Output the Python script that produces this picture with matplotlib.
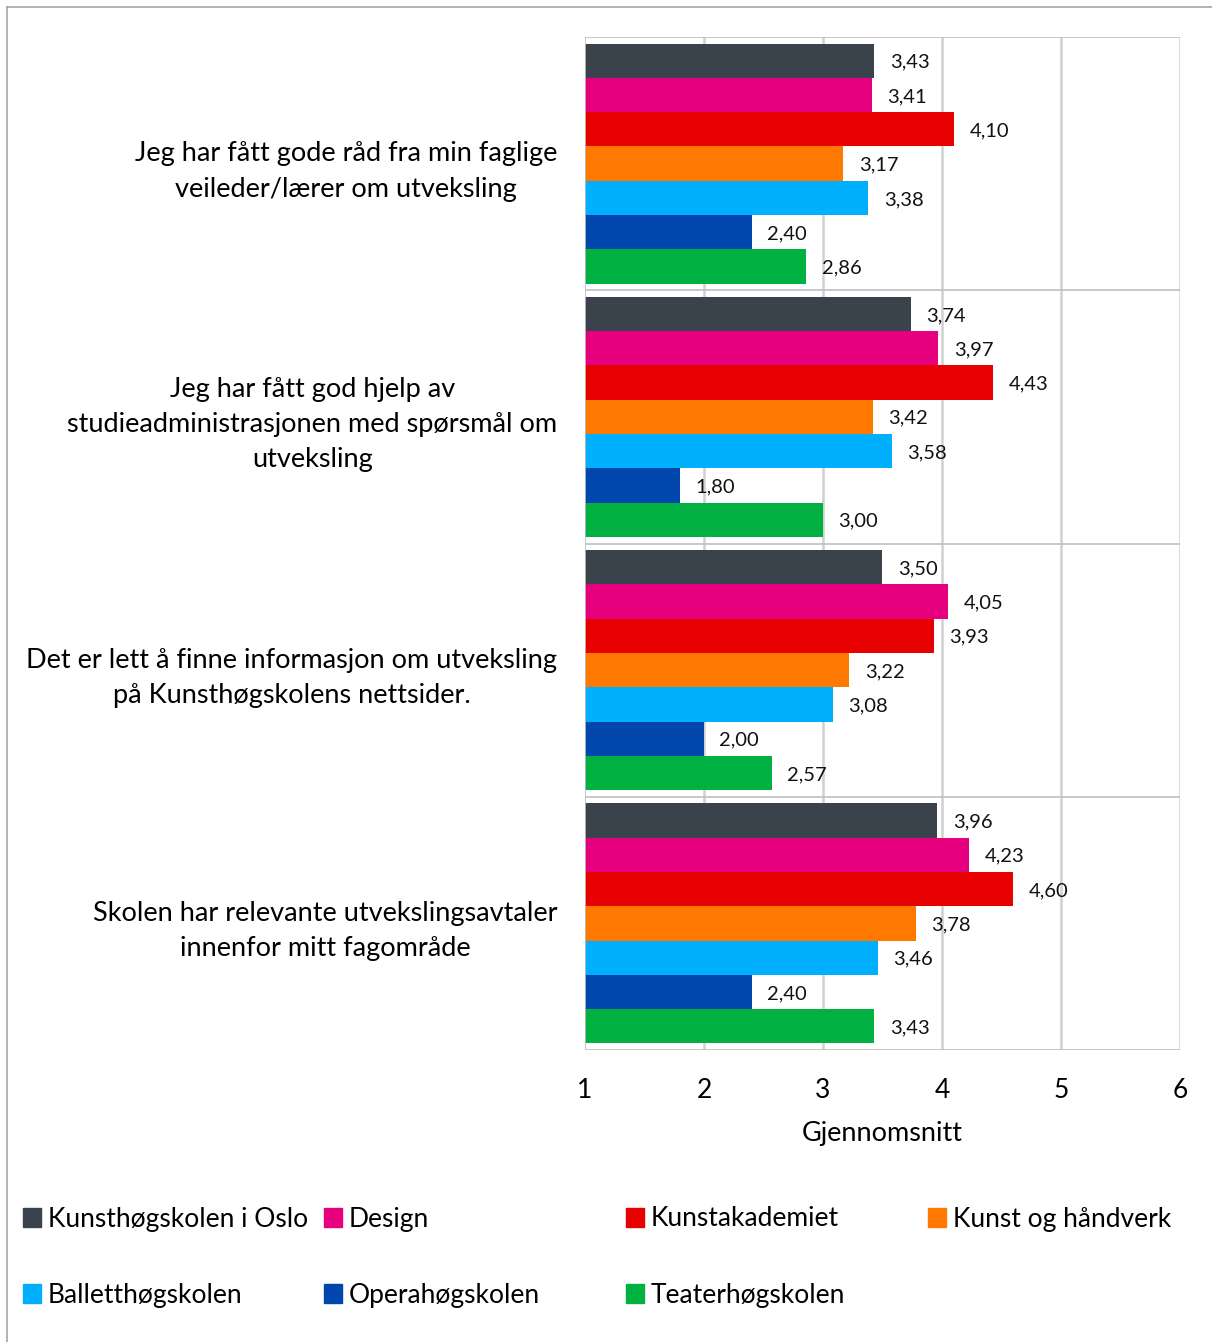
import numpy as np
import matplotlib
matplotlib.use("Agg")
import matplotlib.pyplot as plt
from matplotlib.patches import Patch
from matplotlib.lines import Line2D

plt.rcParams['font.family'] = ['Lato', 'DejaVu Sans']

questions = [
    "Jeg har fått gode råd fra min faglige\nveileder/lærer om utveksling",
    "Jeg har fått god hjelp av\nstudieadministrasjonen med spørsmål om\nutveksling",
    "Det er lett å finne informasjon om utveksling\npå Kunsthøgskolens nettsider.",
    "Skolen har relevante utvekslingsavtaler\ninnenfor mitt fagområde",
]
series = ["Kunsthøgskolen i Oslo", "Design", "Kunstakademiet", "Kunst og håndverk",
          "Balletthøgskolen", "Operahøgskolen", "Teaterhøgskolen"]
colors = ["#3A434B", "#E6007E", "#E60000", "#FF7800", "#00B0FF", "#0046AD", "#00B040"]

khio = [3.43, 3.74, 3.50, 3.96]
design = [3.41, 3.97, 4.05, 4.23]
kunstakademiet = [4.10, 4.43, 3.93, 4.60]
kunst_handverk = [3.17, 3.42, 3.22, 3.78]
ballett = [3.38, 3.58, 3.08, 3.46]
opera = [2.40, 1.80, 2.00, 2.40]
teater = [2.86, 3.00, 2.57, 3.43]
values = [khio, design, kunstakademiet, kunst_handverk, ballett, opera, teater]

base = 1
W, H = 1212, 1342
fig = plt.figure(figsize=(W / 100, H / 100), dpi=100)
ax = fig.add_axes([585 / W, 1 - 1050 / H, (1180 - 585) / W, (1050 - 37) / H])

n = len(series)
h = 0.948 / n
y = np.arange(len(questions))
for i, (name, vals, c) in enumerate(zip(series, values, colors)):
    pos = y - 0.474 + h * (i + 0.5)
    widths = [v - base for v in vals]
    ax.barh(pos, widths, height=h, left=base, color=c, label=name)
    for p, v in zip(pos, vals):
        ax.text(v + 0.13, p, f"{v:.2f}".replace(".", ","), va="center_baseline", ha="left",
                fontsize=14.5, color="#111111")

ax.set_xlim(1, 6)
ax.set_ylim(3.5, -0.5)
ax.set_xticks([1, 2, 3, 4, 5, 6])
ax.set_xticklabels(["1", "2", "3", "4", "5", "6"], fontsize=19)
ax.tick_params(axis="x", length=0, pad=20)
ax.set_yticks(y)
ax.set_yticklabels(questions, fontsize=19.5, multialignment="center", linespacing=1.52)
ax.tick_params(axis="y", length=0, pad=20)
ax.set_xlabel("Gjennomsnitt", fontsize=19.5, labelpad=13)

for x in [2, 3, 4, 5, 6]:
    ax.axvline(x, color="#D0D0D0", lw=1.8, zorder=0)
for b in [-0.5, 0.5, 1.5, 2.5, 3.5]:
    ax.axhline(b, color="#BFBFBF", lw=1.2, zorder=0)
for s in ax.spines.values():
    s.set_visible(False)
ax.axvline(1, color="#BFBFBF", lw=1.2, zorder=3)

# legend, four even columns
colx = [23, 324, 626, 928]
rowy = [1219, 1295]
for i, (name, c) in enumerate(zip(series, colors)):
    r, k = divmod(i, 4)
    fig.legend(handles=[Patch(color=c)], labels=[name], loc="center left",
               bbox_to_anchor=(colx[k] / W, 1 - rowy[r] / H),
               frameon=False, fontsize=19, handlelength=0.7, handleheight=0.7,
               handletextpad=0.25, borderpad=0, borderaxespad=0)

# outer chart frame
fig.add_artist(Line2D([7 / W, 7 / W], [0, 1 - 7 / H], color="#A6A6A6", lw=1.2))
fig.add_artist(Line2D([7 / W, 1], [1 - 7 / H, 1 - 7 / H], color="#A6A6A6", lw=1.2))

fig.savefig("out.png", dpi=100)
